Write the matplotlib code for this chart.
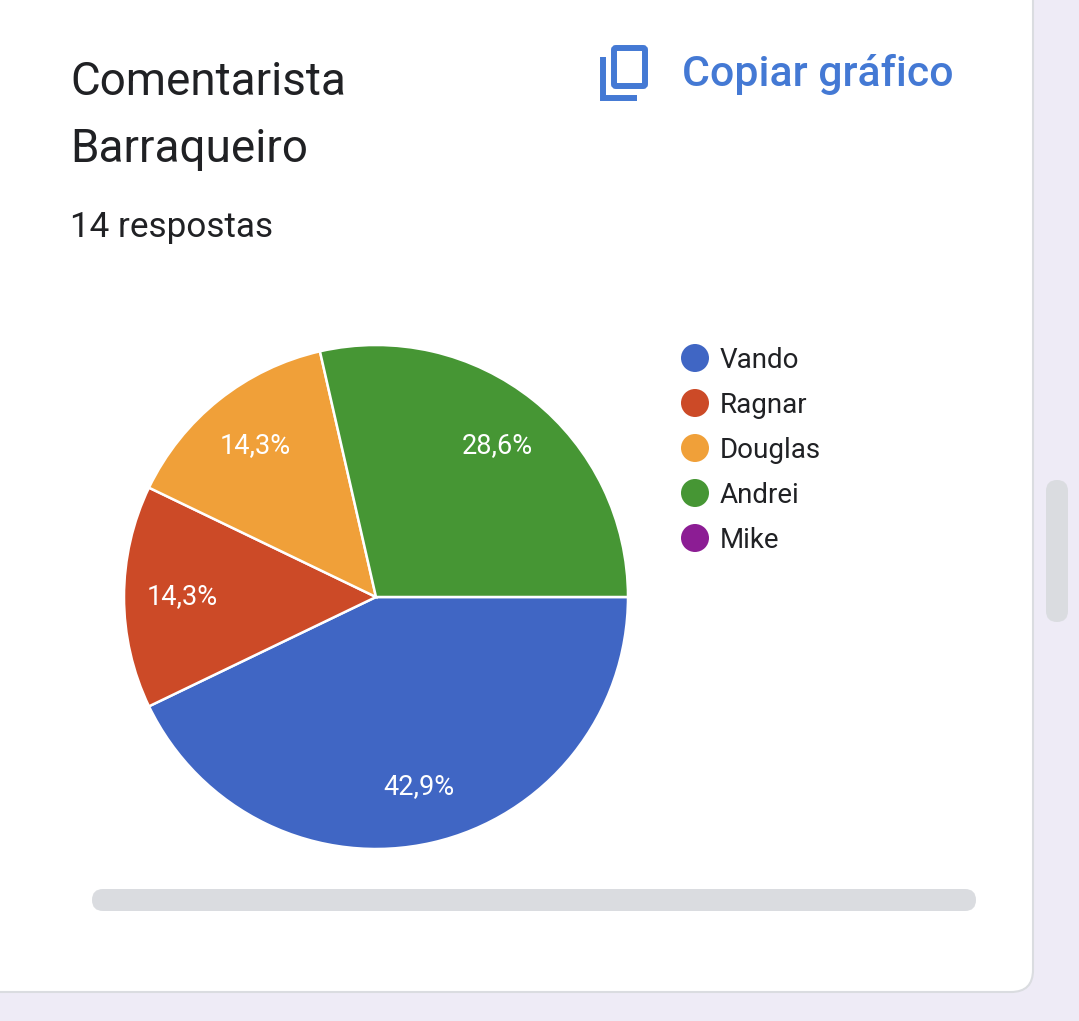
import matplotlib.pyplot as plt
from matplotlib.patches import FancyBboxPatch, Circle

plt.rcParams['font.family'] = ['Roboto', 'DejaVu Sans']

# Data
names = ['Vando', 'Ragnar', 'Douglas', 'Andrei', 'Mike']
counts = [6, 2, 2, 4, 0]
colors = ['#4066C4', '#CC4A27', '#F0A039', '#469634', '#8C1D94']
title_lines = ['Comentarista', 'Barraqueiro']
subtitle = '14 respostas'

W, H = 1079, 1021
fig = plt.figure(figsize=(W / 100, H / 100), dpi=100)
fig.patch.set_facecolor('#EEEBF6')

bg = fig.add_axes([0, 0, 1, 1])
bg.set_xlim(0, W)
bg.set_ylim(H, 0)
bg.axis('off')

# card
bg.add_patch(FancyBboxPatch((-40, -40), 1073, 1032, boxstyle='round,pad=0,rounding_size=22',
                            facecolor='white', edgecolor='#DADCE0', linewidth=1.5))
# scrollbars
bg.add_patch(FancyBboxPatch((92, 889), 884, 22, boxstyle='round,pad=0,rounding_size=11',
                            facecolor='#DADCE0', edgecolor='none'))
bg.add_patch(FancyBboxPatch((1046, 480), 22, 142, boxstyle='round,pad=0,rounding_size=11',
                            facecolor='#DADCE0', edgecolor='none'))

text_color = '#202124'
bg.text(70, 95, title_lines[0], fontsize=33, color=text_color, va='baseline')
bg.text(70, 162, title_lines[1], fontsize=33, color=text_color, va='baseline')
bg.text(70, 237, subtitle, fontsize=25.3, color=text_color, va='baseline')

# copy icon + link
blue = '#4479D4'
bg.add_patch(FancyBboxPatch((614, 48), 31, 38, boxstyle='round,pad=0,rounding_size=2',
                            facecolor='none', edgecolor=blue, linewidth=4.3))
bg.plot([603, 603, 637], [57, 98.5, 98.5], color=blue, linewidth=4.3, solid_capstyle='butt',
        solid_joinstyle='miter')
bg.text(682, 86, 'Copiar gráfico', fontsize=30.8, color=blue, fontweight='medium', va='baseline')

# legend
for i, (name, col) in enumerate(zip(names, colors)):
    cy = 358 + 45 * i
    bg.add_patch(Circle((695, cy), 14, facecolor=col, edgecolor='none'))
    bg.text(720, cy + 10, name, fontsize=20, color=text_color, va='baseline')

# pie
cx, cy, r = 376, 597, 252
pax = fig.add_axes([(cx - r) / W, (H - cy - r) / H, 2 * r / W, 2 * r / H])
nz = [(c, col) for c, col in zip(counts, colors) if c > 0]
wedges, texts, autotexts = pax.pie(
    [c for c, _ in nz], colors=[col for _, col in nz], startangle=0, counterclock=False,
    radius=1, pctdistance=0.77,
    autopct=lambda p: f'{p:.1f}%'.replace('.', ','),
    wedgeprops=dict(edgecolor='white', linewidth=1.8),
    textprops=dict(color='white', fontsize=19.5))
pax.set_xlim(-1, 1)
pax.set_ylim(-1, 1)
pax.set_aspect('equal')
pax.axis('off')

fig.savefig('out.png', dpi=100, facecolor=fig.get_facecolor())
